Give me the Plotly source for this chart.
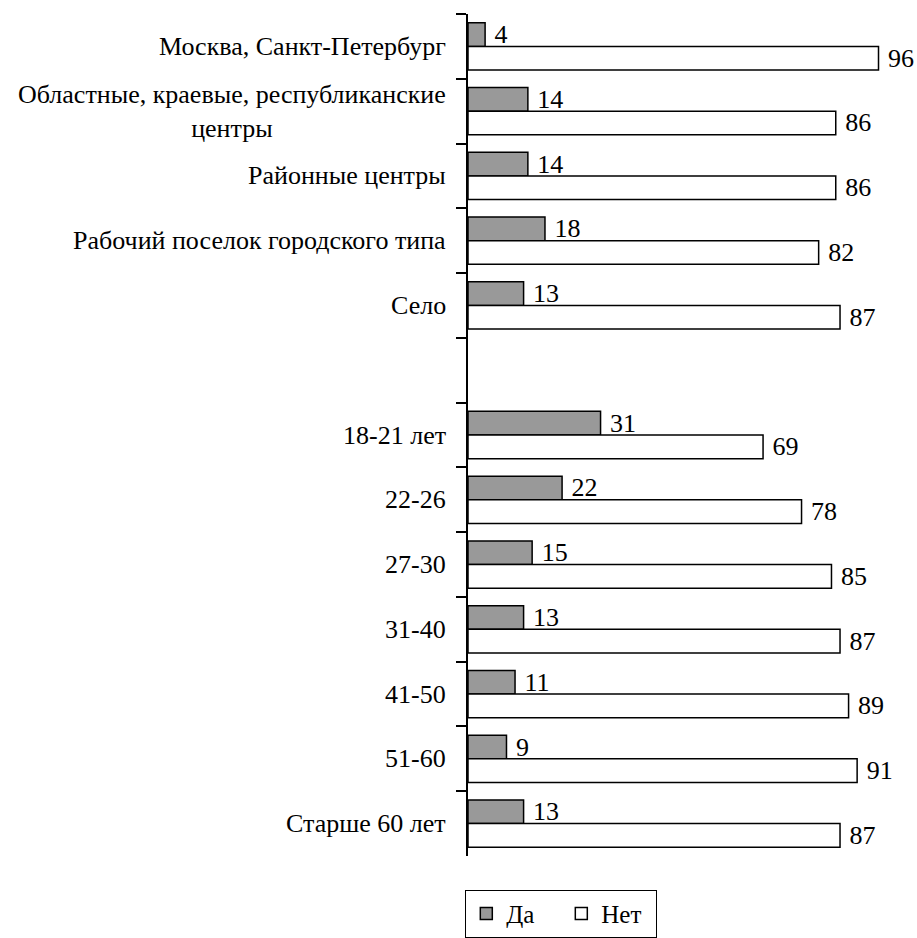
import plotly.graph_objects as go

# Survey answers by settlement type and by age group, percent
categories = [
    "Москва, Санкт-Петербург",
    "Областные, краевые, республиканские центры",
    "Районные центры",
    "Рабочий поселок городского типа",
    "Село",
    " ",
    "18-21 лет",
    "22-26",
    "27-30",
    "31-40",
    "41-50",
    "51-60",
    "Старше 60 лет",
]
labels = [
    "Москва, Санкт-Петербург",
    "Областные, краевые, республиканские<br>центры",
    "Районные центры",
    "Рабочий поселок городского типа",
    "Село",
    "",
    "18-21 лет",
    "22-26",
    "27-30",
    "31-40",
    "41-50",
    "51-60",
    "Старше 60 лет",
]
yes_values = [4, 14, 14, 18, 13, None, 31, 22, 15, 13, 11, 9, 13]
no_values = [96, 86, 86, 82, 87, None, 69, 78, 85, 87, 89, 91, 87]

FONT = "Liberation Serif"
FS = 26
txt_font = dict(family=FONT, size=FS, color="black")


def bar_text(values):
    return ["\u00a0" + str(v) if v is not None else "" for v in values]


fig = go.Figure()
fig.add_trace(go.Bar(
    name="Да", y=categories, x=yes_values, orientation="h",
    marker=dict(color="#999999", line=dict(color="black", width=1.5)),
    text=bar_text(yes_values), textposition="outside",
    cliponaxis=False, constraintext="none", textfont=txt_font,
))
fig.add_trace(go.Bar(
    name="Нет", y=categories, x=no_values, orientation="h",
    marker=dict(color="white", line=dict(color="black", width=1.5)),
    text=bar_text(no_values), textposition="outside",
    cliponaxis=False, constraintext="none", textfont=txt_font,
))

# Category labels, right-aligned against the axis; multi-line labels centred
for cat, lab in zip(categories, labels):
    if lab:
        fig.add_annotation(
            text=lab, x=0, xref="paper", y=cat, yref="y",
            xanchor="right", yanchor="middle", align="center", xshift=-20,
            showarrow=False, font=txt_font,
        )

fig.update_layout(
    width=917, height=938,
    margin=dict(l=468, r=0, t=14, b=68),
    paper_bgcolor="white", plot_bgcolor="white",
    font=txt_font,
    barmode="group", bargap=0.27, bargroupgap=0,
    showlegend=True,
    legend=dict(
        orientation="h", x=-0.006, xanchor="left", y=-0.04, yanchor="top",
        bordercolor="black", borderwidth=1,
        font=dict(family=FONT, size=25, color="black"),
        entrywidth=50, entrywidthmode="pixels",
    ),
    xaxis=dict(range=[0, 105], visible=False),
    yaxis=dict(
        type="category", categoryorder="array", categoryarray=categories,
        autorange="reversed", tickson="boundaries",
        ticks="outside", ticklen=10, tickwidth=1.5, tickcolor="black",
        showticklabels=False,
        showline=True, linecolor="black", linewidth=1.5,
        showgrid=False, zeroline=False,
    ),
)

fig.write_html("out.html")
